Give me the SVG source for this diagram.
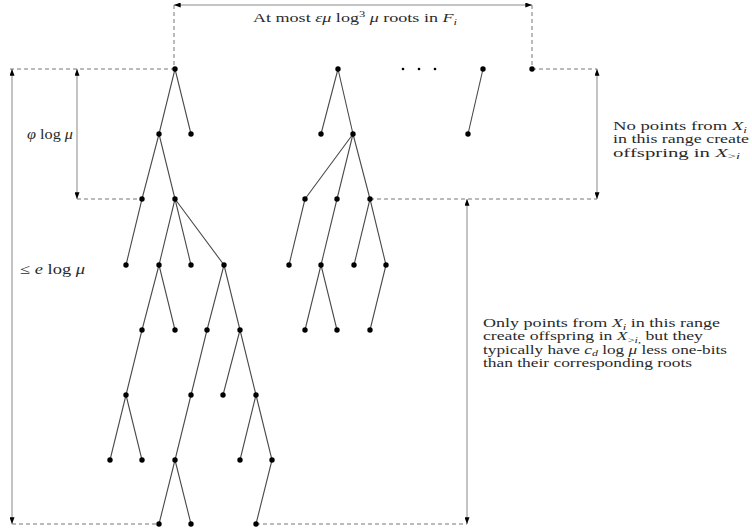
<svg xmlns="http://www.w3.org/2000/svg" width="752" height="531" viewBox="0 0 752 531">
<style>
.e{stroke:#4a4a4a;stroke-width:1.1;fill:none}
.n{fill:#000}
.d{stroke:#777;stroke-width:1;stroke-dasharray:4 3;fill:none}
.a{stroke:#888;stroke-width:1;fill:none;marker-start:url(#ah);marker-end:url(#ah)}
.t{font-family:"Liberation Serif","Times New Roman",serif;font-size:13px;fill:#2a2a2a}
.i{font-style:italic}
.s{font-size:9px}
</style>
<defs>
<marker id="ah" viewBox="0 0 8 6" refX="8" refY="3" markerWidth="7" markerHeight="5" orient="auto-start-reverse" markerUnits="userSpaceOnUse">
<path d="M0,0 L8,3 L0,6 z" fill="#000"/>
</marker>
</defs>
<rect width="752" height="531" fill="#fff"/>
<g id="guides">
<path class="d" d="M174,5 V69 M532,5 V69 M10,69 H175 M77,199 H142 M12,524 H159 M256,524 H467 M532,69 H597 M370,199 H597"/>
<line class="a" x1="174" y1="5" x2="532" y2="5"/>
<line class="a" x1="12" y1="69" x2="12" y2="524"/>
<line class="a" x1="77" y1="69" x2="77" y2="199"/>
<line class="a" x1="597" y1="69" x2="597" y2="199"/>
<line class="a" x1="467" y1="199" x2="467" y2="524"/>
</g>
<g id="connectors">
<path class="e" d="M175,69 L159,134 M175,69 L191,134 M159,134 L142,199 M159,134 L175,199 M142,199 L126,265 M175,199 L159,265 M175,199 L191,265 M175,199 L224,265 M159,265 L142,330 M159,265 L175,330 M224,265 L207,330 M224,265 L240,330 M142,330 L126,395 M207,330 L191,395 M240,330 L223,395 M240,330 L256,395 M126,395 L110,460 M126,395 L142,460 M191,395 L175,460 M256,395 L240,460 M256,395 L272,460 M175,460 L159,524 M175,460 L191,524 M272,460 L256,524"/>
<path class="e" d="M338,69 L321,134 M338,69 L353,134 M353,134 L305,199 M353,134 L337,199 M353,134 L370,199 M305,199 L289,265 M337,199 L321,265 M370,199 L354,265 M370,199 L386,265 M321,265 L305,330 M321,265 L337,330 M386,265 L370,330"/>
<path class="e" d="M483,69 L468,134"/>
</g>
<g id="a0"><circle class="n" cx="175" cy="69" r="2.7"/></g>
<g id="a1"><circle class="n" cx="159" cy="134" r="2.7"/></g>
<g id="a2"><circle class="n" cx="191" cy="134" r="2.7"/></g>
<g id="a3"><circle class="n" cx="142" cy="199" r="2.7"/></g>
<g id="a4"><circle class="n" cx="175" cy="199" r="2.7"/></g>
<g id="a5"><circle class="n" cx="126" cy="265" r="2.7"/></g>
<g id="a6"><circle class="n" cx="159" cy="265" r="2.7"/></g>
<g id="a7"><circle class="n" cx="191" cy="265" r="2.7"/></g>
<g id="a8"><circle class="n" cx="224" cy="265" r="2.7"/></g>
<g id="a9"><circle class="n" cx="142" cy="330" r="2.7"/></g>
<g id="a10"><circle class="n" cx="175" cy="330" r="2.7"/></g>
<g id="a11"><circle class="n" cx="207" cy="330" r="2.7"/></g>
<g id="a12"><circle class="n" cx="240" cy="330" r="2.7"/></g>
<g id="a13"><circle class="n" cx="126" cy="395" r="2.7"/></g>
<g id="a14"><circle class="n" cx="191" cy="395" r="2.7"/></g>
<g id="a15"><circle class="n" cx="223" cy="395" r="2.7"/></g>
<g id="a16"><circle class="n" cx="256" cy="395" r="2.7"/></g>
<g id="a17"><circle class="n" cx="110" cy="460" r="2.7"/></g>
<g id="a18"><circle class="n" cx="142" cy="460" r="2.7"/></g>
<g id="a19"><circle class="n" cx="175" cy="460" r="2.7"/></g>
<g id="a20"><circle class="n" cx="240" cy="460" r="2.7"/></g>
<g id="a21"><circle class="n" cx="272" cy="460" r="2.7"/></g>
<g id="a22"><circle class="n" cx="159" cy="524" r="2.7"/></g>
<g id="a23"><circle class="n" cx="191" cy="524" r="2.7"/></g>
<g id="a24"><circle class="n" cx="256" cy="524" r="2.7"/></g>
<g id="b0"><circle class="n" cx="338" cy="69" r="2.7"/></g>
<g id="b1"><circle class="n" cx="321" cy="134" r="2.7"/></g>
<g id="b2"><circle class="n" cx="353" cy="134" r="2.7"/></g>
<g id="b3"><circle class="n" cx="305" cy="199" r="2.7"/></g>
<g id="b4"><circle class="n" cx="337" cy="199" r="2.7"/></g>
<g id="b5"><circle class="n" cx="370" cy="199" r="2.7"/></g>
<g id="b6"><circle class="n" cx="289" cy="265" r="2.7"/></g>
<g id="b7"><circle class="n" cx="321" cy="265" r="2.7"/></g>
<g id="b8"><circle class="n" cx="354" cy="265" r="2.7"/></g>
<g id="b9"><circle class="n" cx="386" cy="265" r="2.7"/></g>
<g id="b10"><circle class="n" cx="305" cy="330" r="2.7"/></g>
<g id="b11"><circle class="n" cx="337" cy="330" r="2.7"/></g>
<g id="b12"><circle class="n" cx="370" cy="330" r="2.7"/></g>
<g id="c0"><circle class="n" cx="483" cy="69" r="2.7"/></g>
<g id="c1"><circle class="n" cx="468" cy="134" r="2.7"/></g>
<g id="d0"><circle class="n" cx="532" cy="69" r="2.7"/></g>
<g id="ellipsis"><circle class="n" cx="403" cy="69" r="1.3"/><circle class="n" cx="419" cy="69" r="1.3"/><circle class="n" cx="435" cy="69" r="1.3"/></g>
<g id="labels">
<text class="t" x="253" y="22" font-size="14" textLength="204" lengthAdjust="spacingAndGlyphs">At most <tspan class="i">εμ</tspan> log<tspan dy="-5" class="s">3</tspan><tspan dy="5"> </tspan><tspan class="i">μ</tspan> roots in <tspan class="i">F</tspan><tspan dy="3" class="s i">i</tspan></text>
<text class="t" x="27" y="139" style="font-size:14px" textLength="46" lengthAdjust="spacingAndGlyphs"><tspan class="i">φ</tspan> log <tspan class="i">μ</tspan></text>
<text class="t" x="20" y="274" style="font-size:14px" textLength="65" lengthAdjust="spacingAndGlyphs">≤ <tspan class="i">e</tspan> log <tspan class="i">μ</tspan></text>
<text class="t" x="613" y="130" textLength="134" lengthAdjust="spacingAndGlyphs">No points from <tspan class="i">X</tspan><tspan dy="2.5" class="s i">i</tspan></text>
<text class="t" x="613" y="143.3" textLength="136" lengthAdjust="spacingAndGlyphs">in this range create</text>
<text class="t" x="613" y="156.7" textLength="127" lengthAdjust="spacingAndGlyphs">offspring in <tspan class="i">X</tspan><tspan dy="2.5" class="s">&gt;</tspan><tspan class="s i">i</tspan></text>
<text class="t" x="483" y="327" textLength="237" lengthAdjust="spacingAndGlyphs">Only points from <tspan class="i">X</tspan><tspan dy="2.5" class="s i">i</tspan><tspan dy="-2.5"> in this range</tspan></text>
<text class="t" x="483" y="340.3" textLength="220" lengthAdjust="spacingAndGlyphs">create offspring in <tspan class="i">X</tspan><tspan dy="2.5" class="s">&gt;</tspan><tspan class="s i">i</tspan><tspan class="s">,</tspan><tspan dy="-2.5"> but they</tspan></text>
<text class="t" x="483" y="353.6" textLength="244" lengthAdjust="spacingAndGlyphs">typically have <tspan class="i">c</tspan><tspan dy="2.5" class="s i">d</tspan><tspan dy="-2.5"> log </tspan><tspan class="i">μ</tspan> less one-bits</text>
<text class="t" x="483" y="367" textLength="209" lengthAdjust="spacingAndGlyphs">than their corresponding roots</text>
</g>
</svg>
